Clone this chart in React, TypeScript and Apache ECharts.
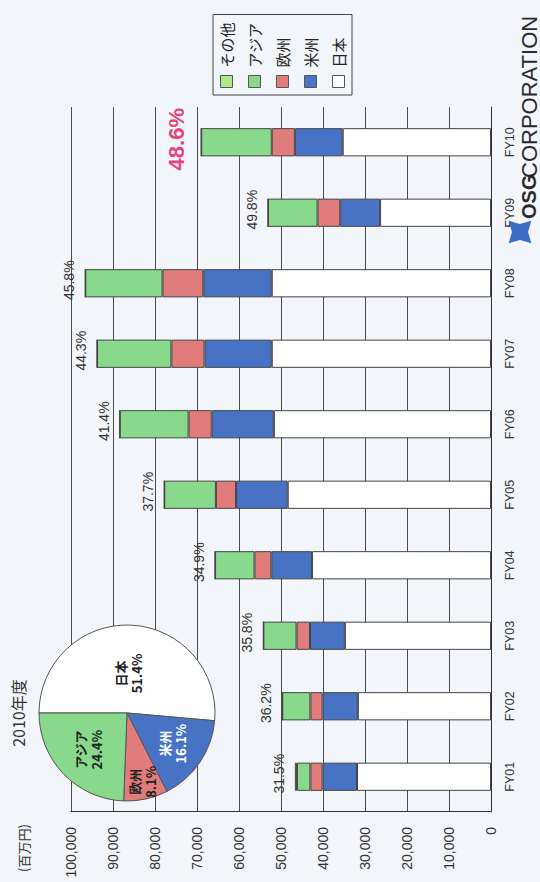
import React, { useEffect, useRef } from 'react';
import * as echarts from 'echarts';

// ---- data (百万円) ----
const categories = ['FY01', 'FY02', 'FY03', 'FY04', 'FY05', 'FY06', 'FY07', 'FY08', 'FY09', 'FY10'];
const japan = [31900, 31700, 34800, 42600, 48400, 51700, 52200, 52200, 26400, 35300];
const americas = [8200, 8400, 8300, 9700, 12300, 14800, 16000, 16300, 9500, 11400];
const europe = [2900, 2900, 3200, 4000, 4800, 5500, 7900, 9700, 5400, 5500];
const asia = [3200, 6700, 7900, 9400, 12300, 16400, 17700, 18400, 11800, 16800];
const other = [500, 0, 0, 0, 0, 0, 0, 0, 0, 0];
const overseasPct = ['31.5%', '36.2%', '35.8%', '34.9%', '37.7%', '41.4%', '44.3%', '45.8%', '49.8%', '48.6%'];

const valueMin = 0;
const valueMax = 100000;
const valueInterval = 10000;

const pieNames = ['日本', '米州', '欧州', 'アジア'];
const pieValues = [51.4, 16.1, 8.1, 24.4];

const legendOrder = ['その他', 'アジア', '欧州', '米州', '日本'];

const COLORS: Record<string, string> = {
  '日本': '#ffffff',
  '米州': '#4873c4',
  '欧州': '#e07c7c',
  'アジア': '#88d98b',
  'その他': '#b0e88c',
};

const FONT = "'Liberation Sans', Arial, 'Noto Sans CJK JP', sans-serif";
const CJK = "'Noto Sans CJK JP', 'Liberation Sans', sans-serif";

export default function App() {
  const ref = useRef<HTMLDivElement>(null);

  useEffect(() => {
    const el = ref.current;
    if (!el) return;
    const chart = echarts.init(el, null, { renderer: 'svg' });

    const border = { borderColor: '#444', borderWidth: 1 };
    const barSeries = (name: string, data: any[]) => ({
      name,
      type: 'bar',
      stack: 'total',
      barWidth: '40%',
      data,
      itemStyle: { color: COLORS[name], ...border },
      emphasis: { disabled: true },
    });

    const totals = categories.map((_, i) => japan[i] + americas[i] + europe[i] + asia[i] + other[i]);

    // pie label positions from slice angles
    const pieCenter = [169, 127];
    const pieR = 88;
    const labelR = [0.45, 0.62, 0.8, 0.6];
    const pieTotal = pieValues.reduce((a, b) => a + b, 0);
    let acc = 0;
    const mids = pieValues.map((v) => {
      const m = acc + v / 2;
      acc += v;
      return (m / pieTotal) * Math.PI * 2;
    });
    const pieLabelColor = ['#222', '#ffffff', '#222', '#222'];

    // emblem polygon
    const emC = [650, 520];
    const emPts: number[][] = [];
    for (let i = 0; i < 8; i++) {
      const a = (i * Math.PI) / 4 + Math.PI / 4;
      const r = i % 2 === 0 ? 16 : 8;
      emPts.push([emC[0] + r * Math.cos(a), emC[1] + r * Math.sin(a)]);
    }

    const option: any = {
      animation: false,
      backgroundColor: 'transparent',
      textStyle: { fontFamily: FONT },
      grid: { left: 70, right: 107, top: 71, bottom: 49 },
      legend: {
        data: legendOrder,
        orient: 'vertical',
        left: 787,
        top: 213,
        icon: 'rect',
        itemWidth: 12,
        itemHeight: 12,
        itemGap: 13,
        padding: [6, 8, 6, 7],
        borderColor: '#444',
        borderWidth: 1,
        itemStyle: { borderColor: '#555', borderWidth: 1 },
        textStyle: { fontFamily: CJK, fontSize: 15, color: '#222', padding: [0, 0, 0, 3] },
        selectedMode: false,
      },
      xAxis: {
        type: 'category',
        data: categories,
        axisLine: { lineStyle: { color: '#333', width: 1 } },
        axisTick: { inside: true, length: 4, lineStyle: { color: '#333' } },
        axisLabel: { margin: 13, fontSize: 12.5, color: '#333', fontFamily: FONT },
      },
      yAxis: {
        type: 'value',
        min: valueMin,
        max: valueMax,
        interval: valueInterval,
        axisLine: { show: true, lineStyle: { color: '#333', width: 1 } },
        axisTick: { show: false },
        axisLabel: {
          margin: 15,
          fontSize: 14,
          color: '#333',
          fontFamily: FONT,
          formatter: (v: number) => v.toLocaleString('en-US'),
        },
        splitLine: { lineStyle: { color: '#4a4a4a', width: 1 } },
      },
      series: [
        barSeries('日本', japan),
        barSeries('米州', americas),
        barSeries('欧州', europe),
        barSeries('アジア', asia),
        barSeries('その他', other),
        {
          type: 'custom',
          name: 'overseas',
          silent: true,
          clip: false,
          z: 4,
          encode: { x: 0, y: 1 },
          data: totals.map((t, i) => [i, t]),
          renderItem: (_params: any, api: any) => {
            const i = api.value(0);
            const pt = api.coord([i, api.value(1)]);
            const big = i === categories.length - 1;
            return {
              type: 'text',
              x: pt[0] + 3,
              y: pt[1] - (big ? 14 : 9),
              style: {
                text: overseasPct[i],
                fontFamily: FONT,
                fontSize: big ? 22 : 14,
                fontWeight: big ? 'bold' : 'normal',
                fill: big ? '#e2457a' : '#333',
                align: 'center',
                verticalAlign: 'bottom',
              },
            };
          },
        },
        {
          type: 'pie',
          name: '2010年度',
          center: pieCenter,
          radius: pieR,
          startAngle: 90,
          clockwise: true,
          silent: true,
          z: 5,
          itemStyle: { borderColor: '#555', borderWidth: 1 },
          label: {
            show: true,
            position: 'inside',
            formatter: (p: any) => `${p.name}\n${p.value}%`,
            fontFamily: CJK,
            fontSize: 13,
            fontWeight: 'bold',
            lineHeight: 16,
          },
          labelLine: { show: false },
          labelLayout: (p: any) => {
            const i = p.dataIndex;
            const r = pieR * labelR[i];
            return {
              x: pieCenter[0] + r * Math.sin(mids[i]),
              y: pieCenter[1] - r * Math.cos(mids[i]),
              align: 'center',
              verticalAlign: 'middle',
            };
          },
          data: pieNames.map((n, i) => ({
            name: n,
            value: pieValues[i],
            itemStyle: { color: COLORS[n] },
            label: { color: pieLabelColor[i] },
          })),
        },
      ],
      graphic: [
        {
          type: 'text',
          x: 34,
          y: 23,
          style: { text: '(百万円)', fontFamily: CJK, fontSize: 13, fill: '#333', align: 'center', verticalAlign: 'middle' },
        },
        {
          type: 'text',
          x: 169,
          y: 18,
          style: { text: '2010年度', fontFamily: CJK, fontSize: 16, fill: '#333', align: 'center', verticalAlign: 'middle' },
        },
        {
          type: 'polygon',
          shape: { points: emPts },
          style: { fill: '#3b6fc8' },
          z: 10,
        },
        {
          type: 'text',
          x: 663,
          y: 529,
          z: 10,
          style: { text: 'OSG', fontFamily: FONT, fontSize: 20, fontWeight: 'bold', fill: '#2a2a2a', align: 'left', verticalAlign: 'middle' },
        },
        {
          type: 'text',
          x: 704,
          y: 529,
          z: 10,
          style: { text: 'CORPORATION', fontFamily: FONT, fontSize: 22, fill: '#2a2a2a', align: 'left', verticalAlign: 'middle' },
        },
      ],
    };

    chart.setOption(option);
    return () => chart.dispose();
  }, []);

  return (
    <div
      style={{
        position: 'fixed',
        left: 0,
        top: 0,
        width: 540,
        height: 882,
        overflow: 'hidden',
        background: '#f2f5f9',
      }}
    >
      <div
        ref={ref}
        style={{
          position: 'absolute',
          left: 0,
          top: 0,
          width: 882,
          height: 540,
          transformOrigin: '0 0',
          transform: 'translateY(882px) rotate(-90deg)',
        }}
      />
    </div>
  );
}
